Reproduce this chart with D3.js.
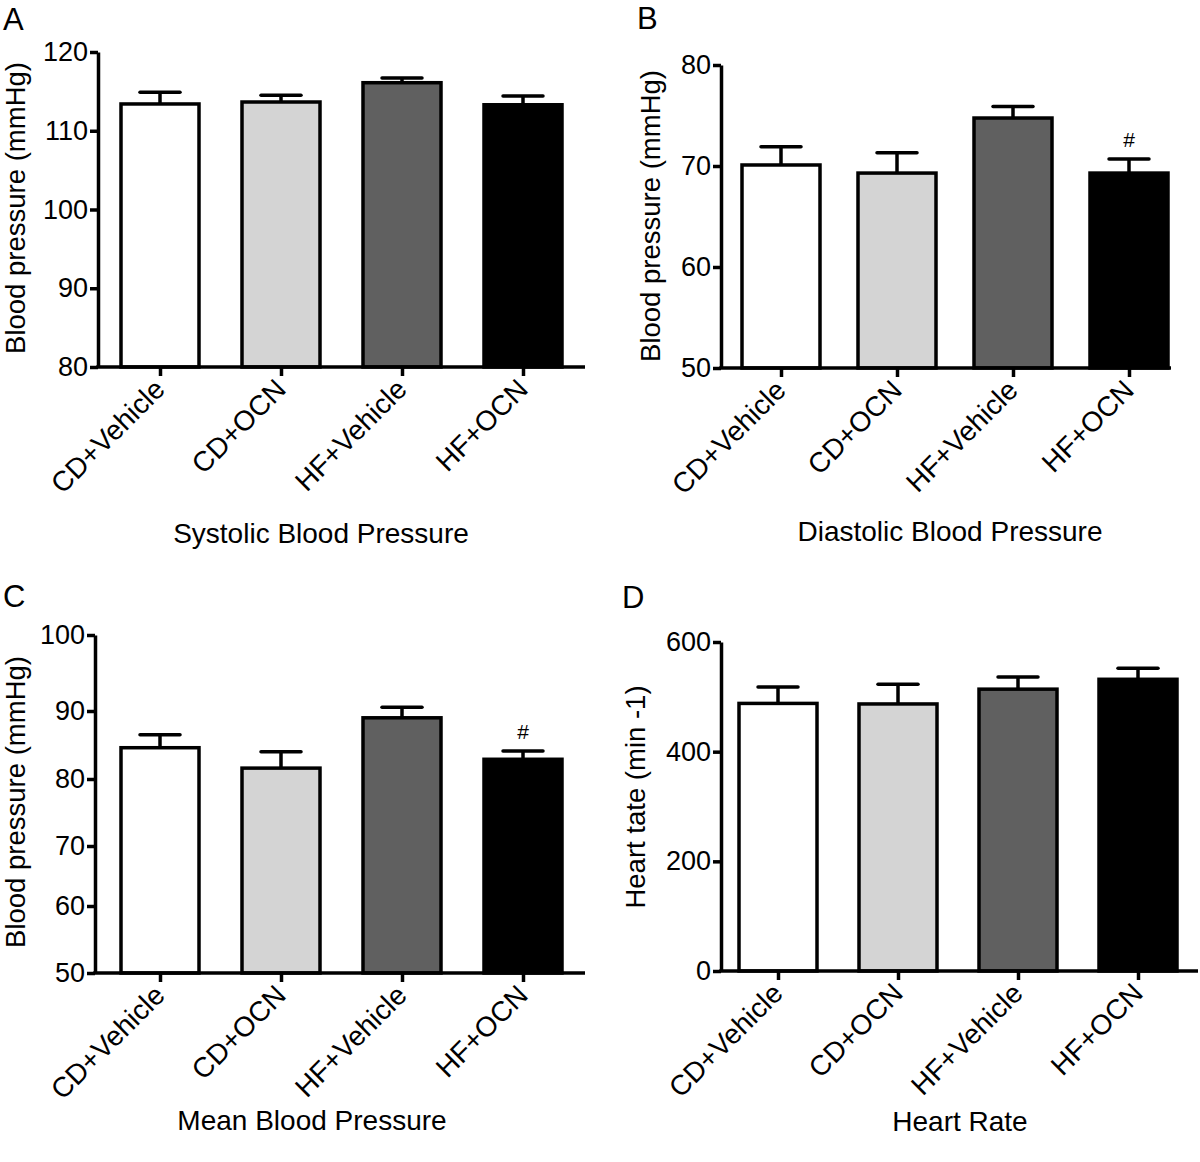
<!DOCTYPE html>
<html>
<head>
<meta charset="utf-8">
<script src="https://cdnjs.cloudflare.com/ajax/libs/d3/7.8.5/d3.min.js"></script>
<style>
  body { margin: 0; background: #fff; }
  svg text { font-family: "Liberation Sans", Arial, sans-serif; fill: #000; }
</style>
</head>
<body>
<div id="chart"></div>
<script>
const width = 1200;
const height = 1162;

const groups = ["CD+Vehicle", "CD+OCN", "HF+Vehicle", "HF+OCN"];

const systolicMean = [113.4, 113.65, 116.1, 113.3];
const systolicSem = [1.5, 0.85, 0.6, 1.1];
const systolicTicks = [80, 90, 100, 110, 120];

const diastolicMean = [70.1, 69.3, 74.75, 69.3];
const diastolicSem = [1.8, 2.0, 1.15, 1.4];
const diastolicTicks = [50, 60, 70, 80];

const meanMean = [84.6, 81.6, 89.0, 82.9];
const meanSem = [1.9, 2.4, 1.5, 1.2];
const meanTicks = [50, 60, 70, 80, 90, 100];

const heartMean = [488, 487, 514, 532];
const heartSem = [30, 36, 22, 20];
const heartTicks = [0, 200, 400, 600];

const fills = ["#ffffff", "#d4d4d4", "#606060", "#000000"];

const svg = d3.select("#chart")
  .append("svg")
  .attr("width", width)
  .attr("height", height);

svg.append("rect")
  .attr("width", width)
  .attr("height", height)
  .attr("fill", "#fff");

const panels = [
  { letter: "A", lx: 3, ly: 30, means: systolicMean, sems: systolicSem, ticks: systolicTicks,
    ylabel: "Blood pressure (mmHg)", title: "Systolic Blood Pressure",
    axisX: 98, axisEnd: 585, centers: [160, 523], yRange: [367, 52],
    labelX: 25, labelY: 208, titleX: 321, titleY: 543, mark: false },
  { letter: "B", lx: 637, ly: 29, means: diastolicMean, sems: diastolicSem, ticks: diastolicTicks,
    ylabel: "Blood pressure (mmHg)", title: "Diastolic Blood Pressure",
    axisX: 721, axisEnd: 1171, centers: [781, 1129], yRange: [368, 65],
    labelX: 660, labelY: 216, titleX: 950, titleY: 541, mark: true },
  { letter: "C", lx: 3, ly: 607, means: meanMean, sems: meanSem, ticks: meanTicks,
    ylabel: "Blood pressure (mmHg)", title: "Mean Blood Pressure",
    axisX: 95, axisEnd: 585, centers: [160, 523], yRange: [973, 906, 846, 779, 711, 635],
    labelX: 25, labelY: 802, titleX: 312, titleY: 1130, mark: true },
  { letter: "D", lx: 622, ly: 608, means: heartMean, sems: heartSem, ticks: heartTicks,
    ylabel: "Heart tate (min -1)", title: "Heart Rate",
    axisX: 721, axisEnd: 1198, centers: [778, 1138], yRange: [971, 642],
    labelX: 645, labelY: 797, titleX: 960, titleY: 1131, mark: false }
];

const barWidth = 78;
const capWidth = 40;
const lineW = 3.5;
const font = "Liberation Sans, Arial, sans-serif";

panels.forEach(function(p) {
  const g = svg.append("g");

  const x = d3.scalePoint()
    .domain(groups)
    .range(p.centers);

  // panel C has uneven tick spacing in the source figure
  const yDomain = p.yRange.length > 2 ? p.ticks : [p.ticks[0], p.ticks[p.ticks.length - 1]];
  const y = d3.scaleLinear()
    .domain(yDomain)
    .range(p.yRange);

  const base = y(p.ticks[0]);

  // bars
  g.selectAll("rect.bar")
    .data(p.means)
    .enter().append("rect")
    .attr("class", "bar")
    .attr("x", (d, i) => x(groups[i]) - barWidth / 2)
    .attr("y", d => y(d))
    .attr("width", barWidth)
    .attr("height", d => base - y(d))
    .attr("fill", (d, i) => fills[i])
    .attr("stroke", "#000")
    .attr("stroke-width", lineW);

  // error bars (upper only)
  g.selectAll("line.err")
    .data(p.means)
    .enter().append("line")
    .attr("x1", (d, i) => x(groups[i]))
    .attr("x2", (d, i) => x(groups[i]))
    .attr("y1", d => y(d))
    .attr("y2", (d, i) => y(d + p.sems[i]))
    .attr("stroke", "#000")
    .attr("stroke-width", lineW);

  g.selectAll("line.cap")
    .data(p.means)
    .enter().append("line")
    .attr("x1", (d, i) => x(groups[i]) - capWidth / 2)
    .attr("x2", (d, i) => x(groups[i]) + capWidth / 2)
    .attr("y1", (d, i) => y(d + p.sems[i]))
    .attr("y2", (d, i) => y(d + p.sems[i]))
    .attr("stroke", "#000")
    .attr("stroke-width", lineW)
    .attr("stroke-linecap", "round");

  if (p.mark) {
    g.append("text")
      .attr("x", x(groups[3]))
      .attr("y", y(p.means[3] + p.sems[3]) - 12)
      .attr("text-anchor", "middle")
      .attr("font-size", 21)
      .text("#");
  }

  // y axis
  const yAxis = g.append("g")
    .attr("transform", `translate(${p.axisX},0)`)
    .call(d3.axisLeft(y).tickValues(p.ticks).tickSize(8).tickSizeOuter(0).tickPadding(2));
  yAxis.select(".domain").attr("stroke-width", lineW);
  yAxis.selectAll(".tick line").attr("stroke-width", lineW);
  yAxis.selectAll(".tick text")
    .attr("font-size", 27)
    .attr("font-family", font);

  // x axis
  const xAxis = g.append("g")
    .attr("transform", `translate(0,${base})`)
    .call(d3.axisBottom(x).tickSize(9).tickSizeOuter(0));
  xAxis.select(".domain").remove();
  xAxis.selectAll(".tick line").attr("stroke-width", lineW);
  xAxis.selectAll(".tick text")
    .attr("font-size", 28)
    .attr("font-family", font)
    .attr("text-anchor", "end")
    .attr("x", 0)
    .attr("y", 0)
    .attr("dy", 0)
    .attr("transform", "translate(6,24) rotate(-45)");
  xAxis.append("line")
    .attr("x1", p.axisX - lineW / 2)
    .attr("x2", p.axisEnd)
    .attr("y1", 0)
    .attr("y2", 0)
    .attr("stroke", "#000")
    .attr("stroke-width", lineW);

  // y label
  g.append("text")
    .attr("transform", `translate(${p.labelX},${p.labelY}) rotate(-90)`)
    .attr("text-anchor", "middle")
    .attr("font-size", 27.5)
    .text(p.ylabel);

  // title under axis
  g.append("text")
    .attr("x", p.titleX)
    .attr("y", p.titleY)
    .attr("text-anchor", "middle")
    .attr("font-size", 28)
    .text(p.title);

  // panel letter
  g.append("text")
    .attr("x", p.lx)
    .attr("y", p.ly)
    .attr("font-size", 31)
    .text(p.letter);
});
</script>
</body>
</html>
